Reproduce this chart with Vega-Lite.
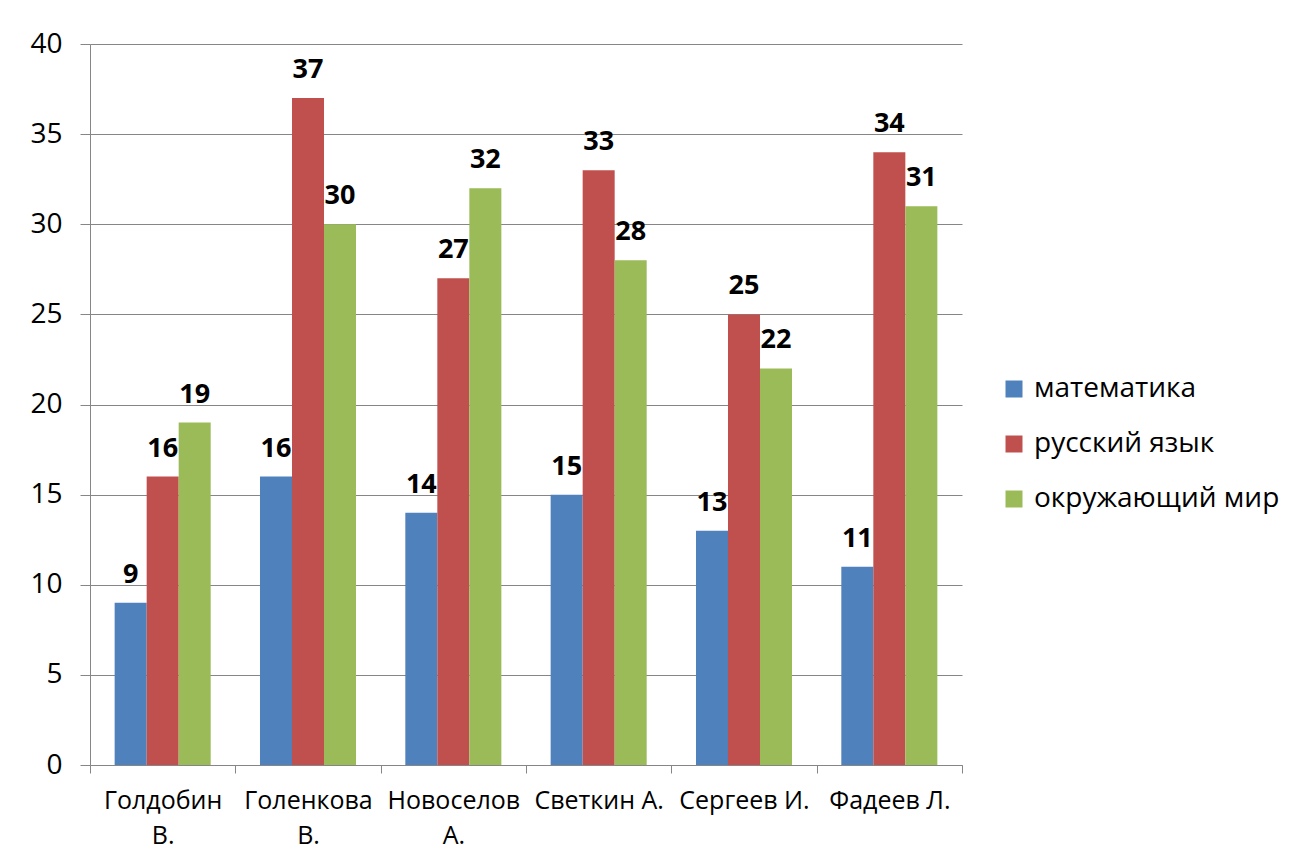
{
  "$schema": "https://vega.github.io/schema/vega-lite/v6.json",
  "autosize": "none",
  "width": 872,
  "height": 721,
  "padding": {"left": 90, "top": 44, "right": 328, "bottom": 100},
  "background": "white",
  "config": {
    "font": "Open Sans",
    "view": {"stroke": null},
    "axis": {"labelFont": "Open Sans", "labelColor": "black", "domainColor": "#868686", "tickColor": "#868686", "gridColor": "#868686"}
  },
  "data": {
    "values": [
      {"name": "Голдобин В.", "subject": "математика", "score": 9},
      {"name": "Голдобин В.", "subject": "русский язык", "score": 16},
      {"name": "Голдобин В.", "subject": "окружающий мир", "score": 19},
      {"name": "Голенкова В.", "subject": "математика", "score": 16},
      {"name": "Голенкова В.", "subject": "русский язык", "score": 37},
      {"name": "Голенкова В.", "subject": "окружающий мир", "score": 30},
      {"name": "Новоселов А.", "subject": "математика", "score": 14},
      {"name": "Новоселов А.", "subject": "русский язык", "score": 27},
      {"name": "Новоселов А.", "subject": "окружающий мир", "score": 32},
      {"name": "Светкин А.", "subject": "математика", "score": 15},
      {"name": "Светкин А.", "subject": "русский язык", "score": 33},
      {"name": "Светкин А.", "subject": "окружающий мир", "score": 28},
      {"name": "Сергеев И.", "subject": "математика", "score": 13},
      {"name": "Сергеев И.", "subject": "русский язык", "score": 25},
      {"name": "Сергеев И.", "subject": "окружающий мир", "score": 22},
      {"name": "Фадеев Л.", "subject": "математика", "score": 11},
      {"name": "Фадеев Л.", "subject": "русский язык", "score": 34},
      {"name": "Фадеев Л.", "subject": "окружающий мир", "score": 31}
    ]
  },
  "encoding": {
    "x": {
      "field": "name", "type": "nominal", "sort": null,
      "scale": {"paddingInner": 0, "paddingOuter": 0},
      "axis": {"title": null, "labelAngle": 0, "tickBand": "extent", "tickSize": 8, "labelPadding": 15, "grid": false,
               "labelFontSize": 25, "labelLimit": 0,
               "labelExpr": "length(datum.label) > 10 ? split(datum.label, ' ') : datum.label", "labelLineHeight": 35}
    },
    "xOffset": {
      "field": "subject", "type": "nominal", "sort": ["математика", "русский язык", "окружающий мир"],
      "scale": {"paddingInner": 0, "paddingOuter": 0.77}
    },
    "y": {
      "field": "score", "type": "quantitative",
      "scale": {"domain": [0, 40]},
      "axis": {"title": null, "values": [0, 5, 10, 15, 20, 25, 30, 35, 40], "tickSize": 10, "labelPadding": 18, "grid": true, "gridWidth": 1, "labelFontSize": 28}
    }
  },
  "layer": [
    {
      "mark": {"type": "bar"},
      "encoding": {
        "color": {
          "field": "subject", "type": "nominal",
          "sort": ["математика", "русский язык", "окружающий мир"],
          "scale": {"domain": ["математика", "русский язык", "окружающий мир"], "range": ["#4F81BD", "#C0504D", "#9BBB59"]},
          "legend": {
            "title": null, "orient": "none", "legendX": 910, "legendY": 331,
            "symbolType": "square", "symbolSize": 289, "symbolStrokeWidth": 0,
            "labelFontSize": 28, "labelFont": "Open Sans", "labelColor": "black", "labelLimit": 0,
            "rowPadding": 27, "labelOffset": 6
          }
        }
      }
    },
    {
      "mark": {"type": "text", "dy": -20, "baseline": "alphabetic", "fontWeight": "bold", "fontSize": 27, "color": "black", "font": "Open Sans"},
      "encoding": {"text": {"field": "score", "type": "quantitative"}}
    }
  ]
}
